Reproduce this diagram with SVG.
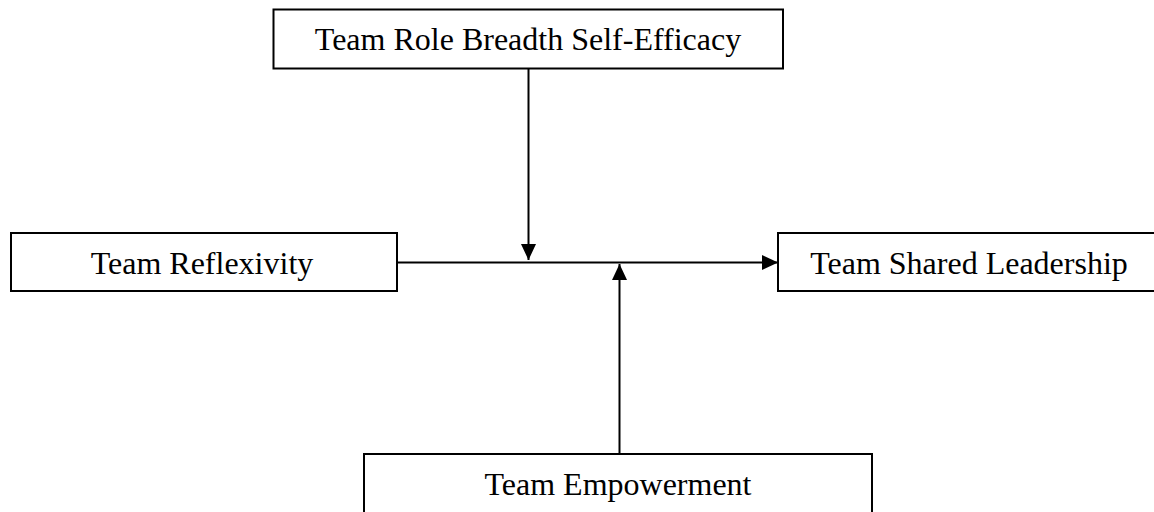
<svg xmlns="http://www.w3.org/2000/svg" width="1154" height="512" viewBox="0 0 1154 512">
<style>
.box{fill:#fff;stroke:#000;stroke-width:2}
.lbl{font-family:"Liberation Serif","Times New Roman",serif;font-size:32px;fill:#000;text-anchor:middle}
.ln{stroke:#000;stroke-width:2;fill:none}
</style>
<defs>
<marker id="ah" viewBox="0 0 16 15" refX="16" refY="7.5" markerWidth="16" markerHeight="15" markerUnits="userSpaceOnUse" orient="auto">
<path d="M0,0 L16,7.5 L0,15 z" fill="#000"/>
</marker>
</defs>
<rect width="1154" height="512" fill="#fff"/>
<g id="connectors">
<line class="ln" x1="397" y1="262.5" x2="778" y2="262.5" marker-end="url(#ah)"/>
<line class="ln" x1="528.5" y1="69" x2="528.5" y2="260" marker-end="url(#ah)"/>
<line class="ln" x1="619.5" y1="454" x2="619.5" y2="264" marker-end="url(#ah)"/>
</g>
<g id="node-rbse">
<rect class="box" x="273.5" y="9.5" width="509.5" height="59"/>
<text class="lbl" x="528" y="50">Team Role Breadth Self-Efficacy</text>
</g>
<g id="node-reflexivity">
<rect class="box" x="11" y="233" width="386" height="58"/>
<text class="lbl" x="202" y="274">Team Reflexivity</text>
</g>
<g id="node-shared">
<rect class="box" x="778" y="233" width="380" height="58"/>
<text class="lbl" x="969" y="274">Team Shared Leadership</text>
</g>
<g id="node-empowerment">
<rect class="box" x="364" y="454" width="508" height="70"/>
<text class="lbl" x="618" y="495">Team Empowerment</text>
</g>
</svg>
